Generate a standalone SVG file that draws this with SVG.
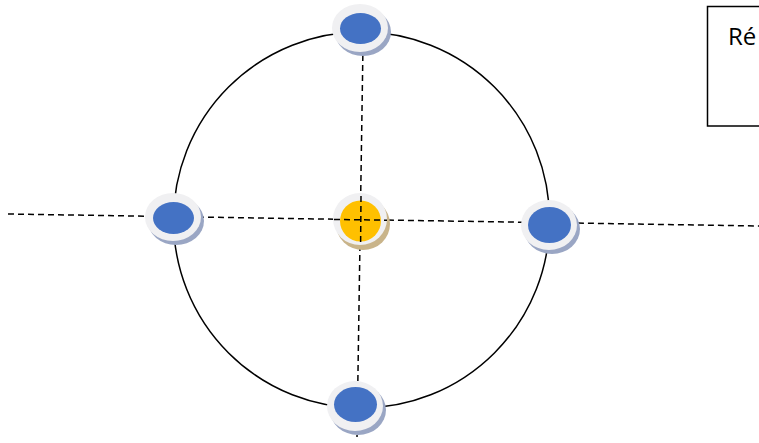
<svg xmlns="http://www.w3.org/2000/svg" width="759" height="443" viewBox="0 0 759 443">
<style>
.ring{fill:none;stroke:#000;stroke-width:1.5}
.dash{fill:none;stroke:#000;stroke-width:1.5;stroke-dasharray:6 4}
.sh{fill:#9aa6c4}
.sh2{fill:#c9b48a}
.disc{fill:#f0f0f2}
.blue{fill:#4472c4}
.yellow{fill:#ffc000}
.lbl{font-family:"Open Sans","Liberation Sans",sans-serif;font-size:24px;fill:#000}
</style>
<rect width="759" height="443" fill="#fff"/>
<ellipse class="ring" cx="361.5" cy="220" rx="188" ry="188"/>
<g id="connectors">
<path class="dash" d="M8 214 L759 226"/>
<path class="dash" d="M363 45 L357 437"/>
</g>
<g id="node-top">
<ellipse class="sh" cx="363" cy="32" rx="28" ry="24"/>
<ellipse class="disc" cx="360" cy="28" rx="28" ry="24"/>
<ellipse class="blue" cx="360.5" cy="28.5" rx="20.5" ry="15.5"/>
</g>
<g id="node-left">
<ellipse class="sh" cx="176" cy="221" rx="28" ry="24"/>
<ellipse class="disc" cx="173" cy="217" rx="28" ry="24"/>
<ellipse class="blue" cx="173.5" cy="218" rx="20.5" ry="16"/>
</g>
<g id="node-right">
<ellipse class="sh" cx="552" cy="229" rx="28" ry="25"/>
<ellipse class="disc" cx="549" cy="225" rx="28" ry="25"/>
<ellipse class="blue" cx="549.5" cy="225" rx="21.5" ry="18"/>
</g>
<g id="node-bottom">
<ellipse class="sh" cx="358" cy="410" rx="28" ry="25"/>
<ellipse class="disc" cx="355" cy="406" rx="28" ry="25"/>
<ellipse class="blue" cx="355.5" cy="404.5" rx="21.5" ry="17.5"/>
</g>
<g id="node-center">
<ellipse class="sh2" cx="363" cy="224" rx="27" ry="26"/>
<ellipse class="disc" cx="360" cy="219" rx="27" ry="26"/>
<circle class="yellow" cx="360.5" cy="221" r="20.5"/>
<path class="dash" d="M334 219.4 L387 220.2 M361 196 L360.6 245"/>
</g>
<g id="legend">
<rect x="707.5" y="6.5" width="60" height="119.5" fill="#fff" stroke="#000" stroke-width="1.5"/>
<text class="lbl" x="728" y="45">Ré</text>
</g>
</svg>
